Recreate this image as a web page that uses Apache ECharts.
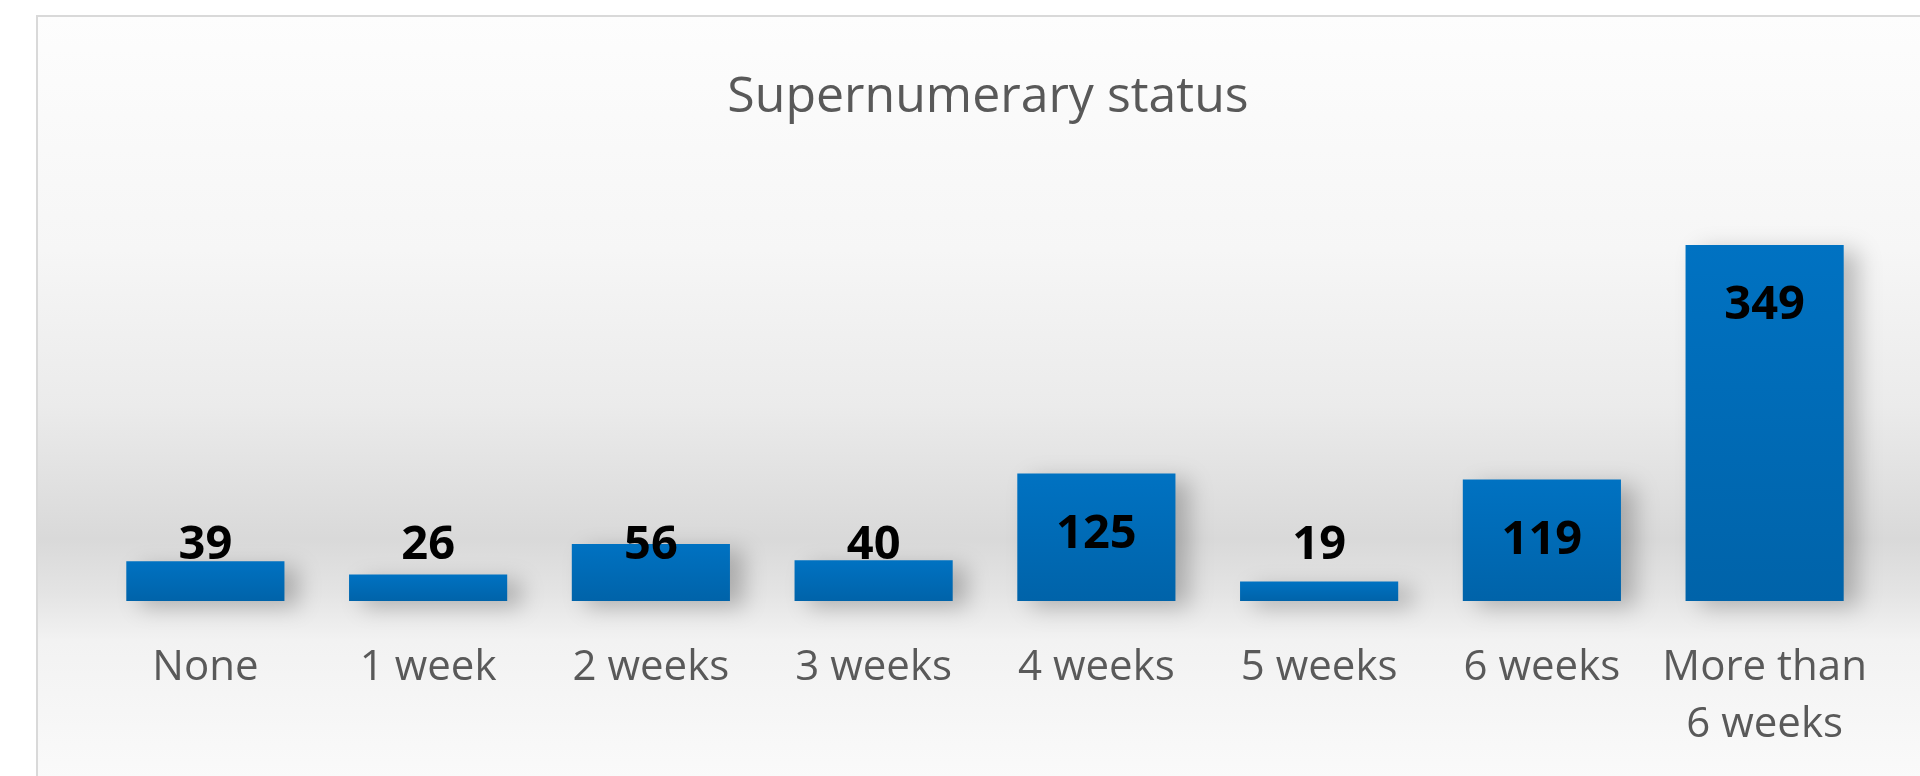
<!DOCTYPE html>
<html>
<head>
<meta charset="utf-8">
<title>Supernumerary status</title>
<script src="https://cdn.jsdelivr.net/npm/echarts@6/dist/echarts.min.js"></script>
<style>
  html, body { margin: 0; padding: 0; background: #fff; }
  #chart { width: 1920px; height: 776px; }
</style>
</head>
<body>
<div id="chart"></div>
<script>
const chartTitle = 'Supernumerary status'
const categories = ['None', '1 week', '2 weeks', '3 weeks', '4 weeks', '5 weeks', '6 weeks', 'More than\n6 weeks']
const counts = [39, 26, 56, 40, 125, 19, 119, 349]

const chart = echarts.init(document.getElementById('chart'))

chart.setOption({
  backgroundColor: '#ffffff',
  animation: false,
  graphic: [
    {
      type: 'rect',
      z: -10,
      shape: { x: 37, y: 16, width: 1900, height: 780 },
      style: {
        fill: new echarts.graphic.LinearGradient(0, 0, 0, 1, [
          { offset: 0, color: '#fdfdfd' },
          { offset: 0.3, color: '#f6f6f6' },
          { offset: 0.5, color: '#ebebeb' },
          { offset: 0.67, color: '#d9d9d9' },
          { offset: 0.74, color: '#e4e4e4' },
          { offset: 0.8, color: '#f2f2f2' },
          { offset: 1, color: '#fbfbfb' }
        ]),
        stroke: '#d9d9d9',
        lineWidth: 2
      }
    }
  ],
  title: {
    text: chartTitle,
    left: 983,
    top: 65,
    textAlign: 'center',
    textStyle: {
      fontFamily: 'Open Sans',
      fontWeight: 400,
      fontSize: 50,
      lineHeight: 56,
      color: '#595959'
    }
  },
  grid: { left: 94, right: 44, top: 193, bottom: 175 },
  xAxis: {
    type: 'category',
    data: categories,
    axisLine: { show: false },
    axisTick: { show: false },
    axisLabel: {
      interval: 0,
      margin: 39,
      fontFamily: 'Open Sans',
      fontSize: 42,
      lineHeight: 57,
      color: '#595959'
    }
  },
  yAxis: {
    type: 'value',
    min: 0,
    max: 400,
    show: false,
    splitLine: { show: false }
  },
  series: [
    {
      type: 'bar',
      barCategoryGap: '29%',
      data: counts.map(v => ({
        value: v,
        // tall bars carry the label inside the top, short ones sit it above the base
        label: v > 100
          ? { position: 'insideTop', distance: 39 }
          : { position: 'insideBottom', distance: 33 }
      })),
      itemStyle: {
        color: new echarts.graphic.LinearGradient(0, 0, 0, 1, [
          { offset: 0, color: '#0072c2' },
          { offset: 1, color: '#0063a9' }
        ]),
        shadowColor: 'rgba(0,0,0,0.24)',
        shadowBlur: 22,
        shadowOffsetX: 14,
        shadowOffsetY: 6
      },
      label: {
        show: true,
        fontFamily: 'Open Sans',
        fontWeight: 700,
        fontSize: 47,
        lineHeight: 44,
        color: '#000000'
      }
    }
  ]
})
</script>
</body>
</html>
